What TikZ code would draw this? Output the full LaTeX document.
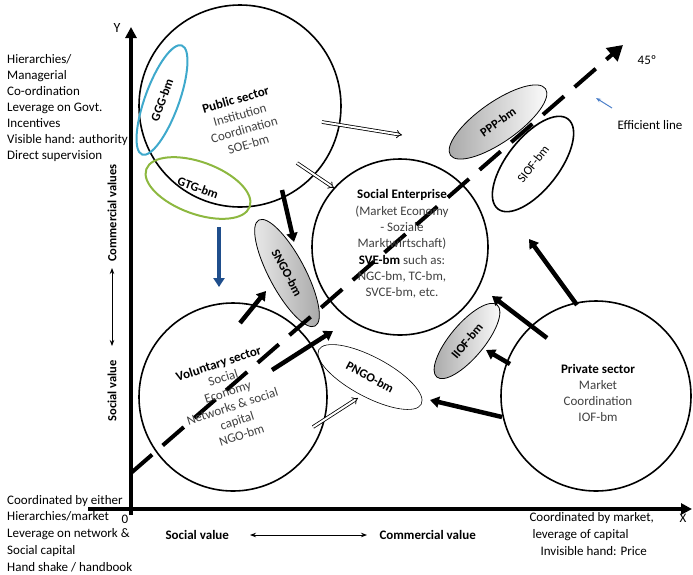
\documentclass[tikz,border=0pt]{standalone}
\usepackage{fontspec}
\setmainfont{Carlito}
\usetikzlibrary{arrows.meta,shapes.geometric}
\definecolor{gggc}{HTML}{3FA9CC}
\definecolor{gtgc}{HTML}{8DB840}
\definecolor{bluearr}{HTML}{1F4E8C}
\definecolor{effblue}{HTML}{4A7EC8}
\definecolor{bodytxt}{HTML}{404040}
\begin{document}
\begin{tikzpicture}[x=1pt,y=-1pt,
  every node/.style={font=\fontsize{13}{16}\selectfont},
  sector/.style={circle, draw, line width=1.6pt, inner sep=0},
  bm/.style={ellipse, draw, inner sep=0, font=\fontsize{12.5}{14}\selectfont\bfseries},
  shadedbm/.style={bm, line width=0.8pt, left color=gray!70, right color=white},
  thickarr/.style={line width=4.5pt, -{Triangle[length=9pt,width=11pt]}},
  hollowarr/.style={double, double distance=2pt, line width=0.8pt, -{Implies}},
  bodytext/.style={align=center, text=bodytxt, font=\fontsize{13}{15.5}\selectfont},
  boldlbl/.style={font=\fontsize{13}{15}\selectfont\bfseries}
]
\useasboundingbox (0,0) rectangle (693,574);

% axes
\coordinate (ybot) at (131,515);
\coordinate (ytop) at (131,27);
\coordinate (xl) at (88,509);
\coordinate (xr) at (692,509);
\draw[line width=3.2pt, -{Triangle[length=11pt,width=11pt]}] (ybot) -- (ytop);
\draw[line width=3.2pt, -{Triangle[length=11pt,width=11pt]}] (xl) -- (xr);
\node (ylab) at (117,28) {\fontsize{14}{16}\selectfont Y};
\node (xlab) at (683,518) {X};
\node (olab) at (125,519) {0};

% sector circles
\node[sector, minimum size=202pt] (pub) at (240,106) {};
\node[sector, minimum size=176pt] (se) at (400,247) {};
\node[sector, minimum size=188pt] (vol) at (233,397) {};
\node[sector, minimum size=190pt] (priv) at (596,396) {};

% ellipses
\node[bm, draw=gggc, line width=2pt, minimum width=116pt, minimum height=34pt, rotate=70] (ggg) at (162,100) {GGG-bm};
\node[bm, draw=gtgc, line width=2pt, minimum width=110pt, minimum height=52pt, rotate=-20] (gtg) at (198,188) {GTG-bm};
\node[shadedbm, minimum width=120pt, minimum height=36pt, rotate=-62, left color=gray!15, right color=gray!70] (sngo) at (287,273) {SNGO-bm};
\node[bm, line width=0.6pt, minimum width=116pt, minimum height=40pt, rotate=-28] (pngo) at (370,377) {PNGO-bm};
\node[shadedbm, minimum width=116pt, minimum height=40pt, rotate=35] (ppp) at (498,122) {PPP-bm};
\node[bm, line width=1.6pt, minimum width=114pt, minimum height=52pt, rotate=52, font=\fontsize{12.5}{14}\selectfont] (siof) at (533,164) {SIOF-bm};
\node[shadedbm, minimum width=94pt, minimum height=34pt, rotate=50] (iiof) at (467,341) {IIOF-bm};

% efficient line
\coordinate (e0) at (131,473);
\coordinate (e1) at (623,45);
\draw[line width=4pt, dash pattern=on 28pt off 14pt, -{Triangle[length=15pt,width=17pt]}] (e0) -- (e1);

% texts in circles
\node[bodytext, rotate=16] (pubtxt) at (242,122) {\textcolor{black}{\bfseries Public sector}\\Institution\\Coordination\\SOE-bm};
\node[bodytext, font=\fontsize{13}{16.3}\selectfont] (setxt) at (402,244) {\textcolor{black}{\bfseries Social Enterprise}\\(Market Economy\\- Soziale\\Marktwirtschaft)\\\textcolor{black}{\bfseries SVE-bm} such as:\\NGC-bm, TC-bm,\\SVCE-bm, etc.};
\node[bodytext, rotate=18, font=\fontsize{13}{15}\selectfont] (voltxt) at (230,399) {\textcolor{black}{\bfseries Voluntary sector}\\Social\\Economy\\Networks \& social\\capital\\NGO-bm};
\node[bodytext, font=\fontsize{13}{16}\selectfont] (privtxt) at (598,393) {\textcolor{black}{\bfseries Private sector}\\Market\\Coordination\\IOF-bm};

% arrows
\coordinate (a1s) at (322,122); \coordinate (a1e) at (402,135);
\coordinate (a2s) at (297,163); \coordinate (a2e) at (334,188);
\coordinate (a3s) at (282,190); \coordinate (a3e) at (294,242);
\coordinate (a4s) at (219,227); \coordinate (a4e) at (219,287);
\coordinate (a5s) at (240,323); \coordinate (a5e) at (266,291);
\coordinate (a6s) at (272,370); \coordinate (a6e) at (333,331);
\coordinate (a7s) at (313,427); \coordinate (a7e) at (358,398);
\coordinate (a8s) at (577,305); \coordinate (a8e) at (529,239);
\coordinate (a9s) at (547,338); \coordinate (a9e) at (492,296);
\coordinate (a10s) at (510,364); \coordinate (a10e) at (486,350);
\coordinate (a11s) at (502,417); \coordinate (a11e) at (430,400);
\draw[hollowarr] (a1s) -- (a1e);
\draw[hollowarr] (a2s) -- (a2e);
\draw[thickarr] (a3s) -- (a3e);
\draw[thickarr, bluearr] (a4s) -- (a4e);
\draw[thickarr] (a5s) -- (a5e);
\draw[thickarr] (a6s) -- (a6e);
\draw[hollowarr] (a7s) -- (a7e);
\draw[thickarr] (a8s) -- (a8e);
\draw[thickarr] (a9s) -- (a9e);
\draw[thickarr] (a10s) -- (a10e);
\draw[thickarr] (a11s) -- (a11e);

% efficient line label
\node (deg) at (647,60) {45º};
\node (eff) at (650,125) {Efficient line};
\coordinate (b1) at (612,108); \coordinate (b2) at (596,98);
\draw[effblue, line width=1pt, -{Stealth[length=5pt]}] (b1) -- (b2);

% left labels
\node[align=left, anchor=north west, inner sep=0, font=\fontsize{13}{16}\selectfont] (ltext) at (7,54) {Hierarchies/\\Managerial\\Co-ordination\\Leverage on Govt.\\Incentives\\Visible hand: authority\\Direct supervision};
\node[boldlbl, rotate=90, font=\fontsize{12.5}{15}\selectfont\bfseries] (cv) at (112,213) {Commercial values};
\node[boldlbl, rotate=90, font=\fontsize{12.5}{15}\selectfont\bfseries] (sv) at (112,391) {Social value};
\coordinate (v1) at (112,268); \coordinate (v2) at (112,346);
\draw[line width=0.8pt, {Stealth[length=6pt]}-{Stealth[length=6pt]}] (v1) -- (v2);

% bottom labels
\node[align=left, anchor=north west, inner sep=0, font=\fontsize{13}{16.7}\selectfont] (bltext) at (7,495) {Coordinated by either\\Hierarchies/market\\Leverage on network \&\\Social capital\\Hand shake / handbook};
\node[boldlbl, anchor=west] (svx) at (162,535) {Social value};
\node[boldlbl, anchor=west] (cvx) at (376,535) {Commercial value};
\coordinate (h1) at (250,535); \coordinate (h2) at (367,535);
\draw[line width=0.8pt, {Stealth[length=6pt]}-{Stealth[length=6pt]}] (h1) -- (h2);
\node[anchor=west] (r1) at (526,518) {Coordinated by market,};
\node[anchor=west] (r2) at (529,535) {leverage of capital};
\node[anchor=west] (r3) at (537,551) {Invisible hand: Price};
\end{tikzpicture}
\end{document}
